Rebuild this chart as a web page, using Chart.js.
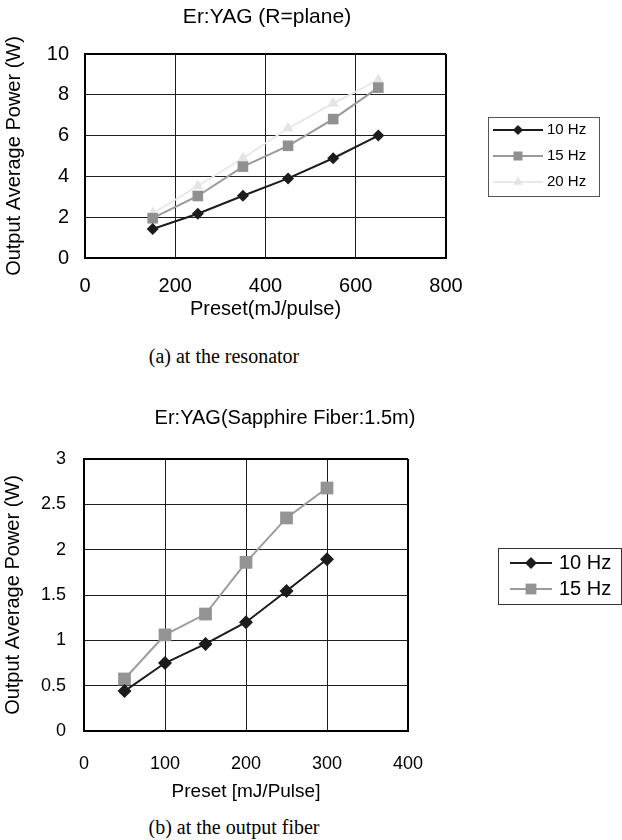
<!DOCTYPE html>
<html>
<head>
<meta charset="utf-8">
<script src="https://cdn.jsdelivr.net/npm/chart.js@4.4.1/dist/chart.umd.min.js"></script>
<style>
  body { margin: 0; background: #fff; width: 622px; height: 840px; position: relative; overflow: hidden; }
  .box { position: absolute; left: 0; width: 622px; }
  .cap { position: absolute; font-family: "Liberation Serif", "Times New Roman", serif; font-size: 20px; color: #000; transform: translateX(-50%); white-space: nowrap; }
</style>
</head>
<body>
<div class="box" style="top:0;height:340px"><canvas id="chartA"></canvas></div>
<div class="cap" style="left:224px;top:345px">(a) at the resonator</div>
<div class="box" style="top:380px;height:430px"><canvas id="chartB"></canvas></div>
<div class="cap" style="left:234px;top:816px">(b) at the output fiber</div>
<script>
// (a) at the resonator
const presetA = [150, 250, 350, 450, 550, 650];
const hz10A = [1.42, 2.17, 3.05, 3.9, 4.89, 6.0];
const hz15A = [1.95, 3.04, 4.48, 5.5, 6.81, 8.35];
const hz20A = [2.19, 3.53, 4.89, 6.36, 7.58, 8.73];

// (b) at the output fiber
const presetB = [50, 100, 150, 200, 250, 300];
const hz10B = [0.44, 0.75, 0.96, 1.2, 1.545, 1.895];
const hz15B = [0.574, 1.06, 1.29, 1.86, 2.35, 2.68];

const sans = "'Liberation Sans', Arial, sans-serif";
Chart.defaults.font.family = sans;
Chart.defaults.color = '#000';

const pts = (xs, ys) => xs.map((x, i) => ({ x: x, y: ys[i] }));

// titel over plottet
const figTitle = {
  id: 'figTitle',
  afterDraw(chart, args, o) {
    const ctx = chart.ctx;
    ctx.save();
    ctx.font = o.font;
    ctx.fillStyle = '#000';
    ctx.textAlign = 'center';
    ctx.textBaseline = 'middle';
    ctx.fillText(o.text, o.x, o.y);
    ctx.restore();
  }
};

// legende med ramme, som i Excel
const boxLegend = {
  id: 'boxLegend',
  afterDraw(chart, args, o) {
    const ctx = chart.ctx;
    ctx.save();
    ctx.strokeStyle = o.border;
    ctx.lineWidth = 1;
    ctx.strokeRect(o.x + 0.5, o.y + 0.5, o.w, o.h);
    ctx.font = o.font;
    ctx.textBaseline = 'middle';
    chart.data.datasets.forEach((ds, i) => {
      const y = o.y + o.first + i * o.rowH;
      ctx.strokeStyle = ds.borderColor;
      ctx.lineWidth = ds.borderWidth;
      ctx.beginPath();
      ctx.moveTo(o.x + o.lineX, y);
      ctx.lineTo(o.x + o.lineX + o.lineLen, y);
      ctx.stroke();
      ctx.fillStyle = ds.pointBackgroundColor;
      ctx.strokeStyle = ds.pointBorderColor;
      Chart.helpers.drawPoint(ctx, {
        pointStyle: ds.pointStyle, rotation: 0, borderWidth: 0,
        radius: ds.pointRadius * o.scale
      }, o.x + o.lineX + o.lineLen / 2, y);
      ctx.fillStyle = '#000';
      ctx.fillText(ds.label, o.x + o.textX, y);
    });
    ctx.restore();
  }
};

function axis(min, max, step, size, tickFont, tickPad, title, titleFont, titlePad) {
  return {
    type: 'linear', min: min, max: max,
    afterFit: s => { if (s.isHorizontal()) s.height = size; else s.width = size; },
    ticks: { stepSize: step, padding: tickPad, font: { size: tickFont }, color: '#000', callback: v => String(v) },
    grid: {
      drawTicks: false,
      color: c => c.tick && c.tick.value === max ? '#000' : '#1e1e1e',
      lineWidth: c => c.tick && c.tick.value === max ? 2 : 1
    },
    border: { display: true, color: '#000', width: 2 },
    title: { display: true, text: title, font: { size: titleFont }, color: '#000', padding: titlePad }
  };
}

function series(label, data, color, lineColor, style, r, width) {
  return {
    label: label, data: data,
    borderColor: lineColor, borderWidth: width,
    pointStyle: style, pointRadius: r, pointHoverRadius: r,
    pointBackgroundColor: color, pointBorderColor: color, pointBorderWidth: 0,
    tension: 0, fill: false
  };
}

new Chart(document.getElementById('chartA'), {
  type: 'line',
  data: {
    datasets: [
      series('10 Hz', pts(presetA, hz10A), '#1c1c1c', '#1c1c1c', 'rectRot', 6, 2),
      series('15 Hz', pts(presetA, hz15A), '#909090', '#999999', 'rect', 7.5, 2),
      series('20 Hz', pts(presetA, hz20A), '#e4e4e4', '#e8e8e8', 'triangle', 6.5, 2)
    ]
  },
  options: {
    responsive: true, maintainAspectRatio: false, animation: false,
    layout: { padding: { left: 0, top: 54, right: 176, bottom: 0 } },
    scales: {
      x: axis(0, 800, 200, 82, 20, 16, 'Preset(mJ/pulse)', 20, { top: 0, bottom: 19 }),
      y: axis(0, 10, 2, 85, 20, 16, 'Output Average Power (W)', 20, { top: 2, bottom: 0 })
    },
    plugins: {
      legend: { display: false },
      tooltip: { enabled: false },
      figTitle: { text: 'Er:YAG (R=plane)', x: 267, y: 17, font: '21px ' + sans },
      boxLegend: { x: 488, y: 117, w: 111, h: 79, first: 13, rowH: 26, lineX: 5, lineLen: 50, textX: 59,
        font: '15px ' + sans, border: '#555', scale: 0.85 }
    }
  },
  plugins: [figTitle, boxLegend]
});

new Chart(document.getElementById('chartB'), {
  type: 'line',
  data: {
    datasets: [
      series('10 Hz', pts(presetB, hz10B), '#1c1c1c', '#1c1c1c', 'rectRot', 7, 2),
      series('15 Hz', pts(presetB, hz15B), '#949494', '#9c9c9c', 'rect', 9, 2)
    ]
  },
  options: {
    responsive: true, maintainAspectRatio: false, animation: false,
    layout: { padding: { left: 0, top: 79, right: 214, bottom: 0 } },
    scales: {
      x: axis(0, 400, 100, 79, 18, 22, 'Preset [mJ/Pulse]', 19, { top: 0, bottom: 7 }),
      y: axis(0, 3, 0.5, 84, 18, 18, 'Output Average Power (W)', 20, { top: 1, bottom: 0 })
    },
    plugins: {
      legend: { display: false },
      tooltip: { enabled: false },
      figTitle: { text: 'Er:YAG(Sapphire Fiber:1.5m)', x: 285, y: 38, font: '20px ' + sans },
      boxLegend: { x: 498, y: 168, w: 123, h: 56, first: 15, rowH: 26, lineX: 12, lineLen: 42, textX: 61,
        font: '20px ' + sans, border: '#333', scale: 0.85 }
    }
  },
  plugins: [figTitle, boxLegend]
});
</script>
</body>
</html>
